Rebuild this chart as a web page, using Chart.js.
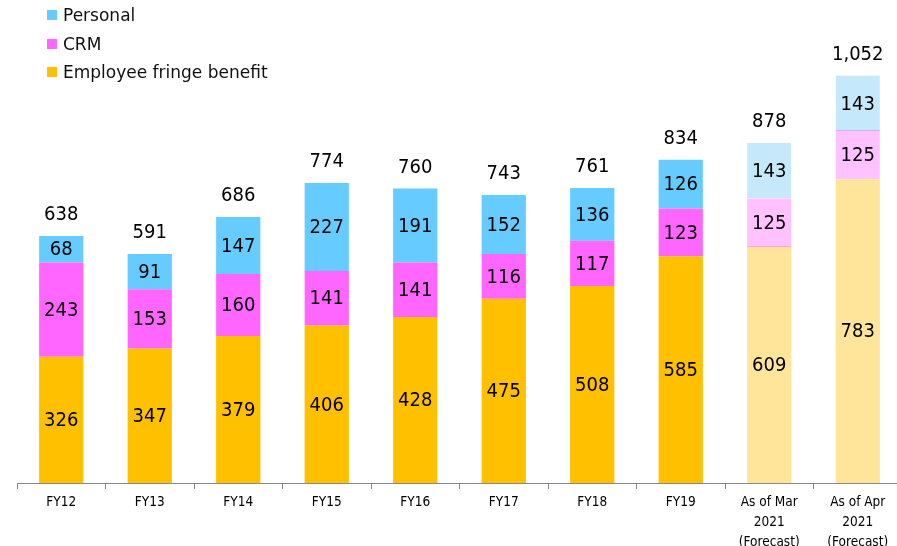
<!DOCTYPE html>
<html>
<head>
<meta charset="utf-8">
<script src="https://cdn.jsdelivr.net/npm/chart.js@4/dist/chart.umd.min.js"></script>
<style>
  body { margin: 0; background: #fff; overflow: hidden; font-family: "DejaVu Sans", sans-serif; }
  #wrap { position: relative; width: 897px; height: 546px; overflow: hidden; }
  #legend { position: absolute; left: 47px; top: 3px; font-size: 17px; color: #111; }
  #legend div { height: 28.5px; line-height: 24px; }
  #legend span { display: inline-block; width: 10px; height: 10px; margin-right: 6px; vertical-align: 1px; }
</style>
</head>
<body>
<div id="wrap">
  <canvas id="myChart" width="905" height="546"></canvas>
  <div id="legend">
    <div><span style="background:#66ccff"></span>Personal</div>
    <div><span style="background:#ff66ff"></span>CRM</div>
    <div><span style="background:#ffc000"></span>Employee fringe benefit</div>
  </div>
</div>
<script>
let categories = [
    ['FY12'], ['FY13'], ['FY14'], ['FY15'], ['FY16'], ['FY17'], ['FY18'], ['FY19'],
    ['As of Mar', '2021', '(Forecast)'], ['As of Apr', '2021', '(Forecast)']
];
let employee = [326, 347, 379, 406, 428, 475, 508, 585, 609, 783];
let crm = [243, 153, 160, 141, 141, 116, 117, 123, 125, 125];
let personal = [68, 91, 147, 227, 191, 152, 136, 126, 143, 143];
let totals = [638, 591, 686, 774, 760, 743, 761, 834, 878, 1052];
let forecast = [false, false, false, false, false, false, false, false, true, true];

function colors(normal, light) {
    return forecast.map(f => f ? light : normal);
}

let labelFont = '20px "DejaVu Sans Condensed", "DejaVu Sans", sans-serif';

// draws the values inside each segment and the totals above the bars
let valueLabels = {
    id: 'valueLabels',
    afterDatasetsDraw(chart) {
        let ctx = chart.ctx;
        ctx.save();
        ctx.font = labelFont;
        ctx.fillStyle = '#000';
        ctx.textAlign = 'center';
        ctx.textBaseline = 'middle';
        chart.data.datasets.forEach((ds, i) => {
            chart.getDatasetMeta(i).data.forEach((bar, j) => {
                ctx.fillText(ds.data[j], bar.x, (bar.y + bar.base) / 2 + 1);
            });
        });
        let top = chart.getDatasetMeta(chart.data.datasets.length - 1).data;
        top.forEach((bar, j) => {
            ctx.fillText(totals[j].toLocaleString('en-US'), bar.x, bar.y - 21);
        });
        ctx.restore();
    }
};

let ctx = document.getElementById('myChart').getContext('2d');
let chart = new Chart(ctx, {
    type: 'bar',
    data: {
        labels: categories,
        datasets: [
            { label: 'Employee fringe benefit', data: employee, backgroundColor: colors('#ffc000', '#ffe599') },
            { label: 'CRM', data: crm, backgroundColor: colors('#ff66ff', '#ffc1ff'),
              borderColor: '#ffa6d9', borderWidth: forecast.map(f => f ? { bottom: 1 } : 0), borderSkipped: false },
            { label: 'Personal', data: personal, backgroundColor: colors('#66ccff', '#c5e8fb'),
              borderColor: '#c9b6f0', borderWidth: forecast.map(f => f ? { bottom: 1 } : 0), borderSkipped: false }
        ]
    },
    options: {
        responsive: false,
        animation: false,
        layout: { padding: { left: 17, right: 3, top: 0, bottom: 0 } },
        datasets: { bar: { categoryPercentage: 1, barPercentage: 0.5 } },
        plugins: { legend: { display: false }, tooltip: { enabled: false } },
        scales: {
            x: {
                stacked: true,
                grid: { drawOnChartArea: false, tickLength: 6, color: '#888', offset: true },
                border: { color: '#888' },
                ticks: {
                    color: '#000',
                    padding: 3,
                    maxRotation: 0,
                    autoSkip: false,
                    font: { family: '"DejaVu Sans Condensed", "DejaVu Sans", sans-serif', size: 13.5, lineHeight: 1.5 }
                },
                afterFit: s => { s.height = 63; }
            },
            y: { stacked: true, display: false, min: 0, max: 1246 }
        }
    },
    plugins: [valueLabels]
});
</script>
</body>
</html>
